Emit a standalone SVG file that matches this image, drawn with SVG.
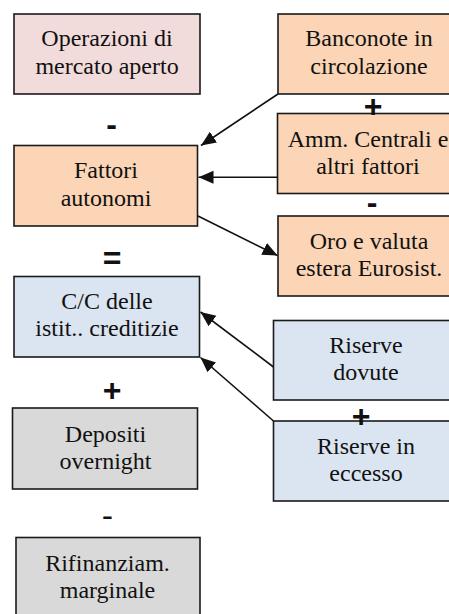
<svg xmlns="http://www.w3.org/2000/svg" width="449" height="614" viewBox="0 0 449 614">
<defs>
<style>
.box{stroke:#1a1a1a;stroke-width:1.6}
.pink{fill:#f2dcdb}
.orange{fill:#fbd5b5}
.blue{fill:#dbe5f1}
.gray{fill:#d9d9d9}
.t{font-family:"Liberation Serif","Times New Roman",serif;font-size:24px;fill:#111;text-anchor:middle}
.sign{font-family:"Liberation Sans",Arial,sans-serif;font-size:32px;font-weight:bold;fill:#111;text-anchor:middle}
.sign2{font-family:"Liberation Sans",Arial,sans-serif;font-size:34px;fill:#111;text-anchor:middle}
.conn{stroke:#111;stroke-width:1.6;fill:none;marker-end:url(#arr)}
</style>
<marker id="arr" markerUnits="userSpaceOnUse" markerWidth="16" markerHeight="14" refX="15" refY="6.5" orient="auto">
<path d="M0,0 L15,6.5 L0,13 Z" fill="#111"/>
</marker>
</defs>
<g id="connectors">
<path class="conn" d="M278,94 L201,145.5"/>
<path class="conn" d="M277.5,177.3 L198.5,177.3"/>
<path class="conn" d="M198,216 L277.5,255.5"/>
<path class="conn" d="M273.5,367 L200.5,312"/>
<path class="conn" d="M273.5,421 L200.5,357.5"/>
</g>
<g id="n-operazioni">
<rect class="box pink" x="14" y="14" width="186" height="80"/>
<text class="t" x="107" y="46">Operazioni di</text>
<text class="t" x="107" y="74">mercato aperto</text>
</g>
<g id="n-banconote">
<rect class="box orange" x="278" y="14" width="190" height="80"/>
<text class="t" x="369" y="46">Banconote in</text>
<text class="t" x="369" y="73.5">circolazione</text>
</g>
<g id="n-amm">
<rect class="box orange" x="277.5" y="113.5" width="190" height="80"/>
<text class="t" x="368" y="146.5">Amm. Centrali e</text>
<text class="t" x="368" y="174">altri fattori</text>
</g>
<g id="n-oro">
<rect class="box orange" x="278" y="216" width="190" height="80"/>
<text class="t" x="369" y="248.5">Oro e valuta</text>
<text class="t" x="369" y="276">estera Eurosist.</text>
</g>
<g id="n-fattori">
<rect class="box orange" x="14" y="145.5" width="183.5" height="80.5"/>
<text class="t" x="106" y="178">Fattori</text>
<text class="t" x="106" y="205.5">autonomi</text>
</g>
<g id="n-cc">
<rect class="box blue" x="14" y="276.5" width="185.5" height="80.5"/>
<text class="t" x="107" y="308.5">C/C delle</text>
<text class="t" x="107" y="336">istit.. creditizie</text>
</g>
<g id="n-riserve-dovute">
<rect class="box blue" x="273.5" y="320.5" width="190" height="79.5"/>
<text class="t" x="366" y="352.5">Riserve</text>
<text class="t" x="366" y="379.5">dovute</text>
</g>
<g id="n-riserve-eccesso">
<rect class="box blue" x="273.5" y="421" width="190" height="80"/>
<text class="t" x="366" y="454">Riserve in</text>
<text class="t" x="366" y="480.5">eccesso</text>
</g>
<g id="n-depositi">
<rect class="box gray" x="12.5" y="408" width="185" height="81"/>
<text class="t" x="105.5" y="441.5">Depositi</text>
<text class="t" x="105.5" y="468.5">overnight</text>
</g>
<g id="n-rifinanziam">
<rect class="box gray" x="16" y="537.5" width="184" height="90"/>
<text class="t" x="107.5" y="570.5">Rifinanziam.</text>
<text class="t" x="107.5" y="598">marginale</text>
</g>
<g id="signs">
<text class="sign" x="111.5" y="135">-</text>
<text class="sign" x="373" y="117">+</text>
<text class="sign" x="372" y="213">-</text>
<text class="sign" x="112" y="269">=</text>
<text class="sign" x="112" y="401">+</text>
<text class="sign" x="361" y="427">+</text>
<text class="sign2" x="107.5" y="527">-</text>
</g>
</svg>
